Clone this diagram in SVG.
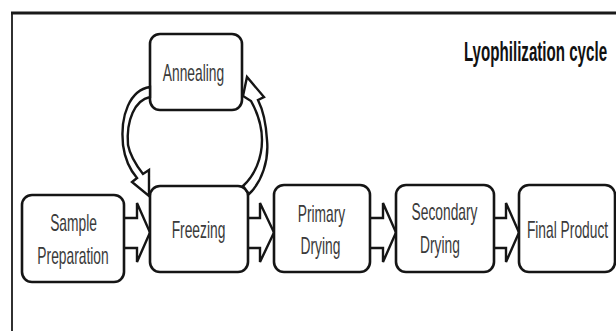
<svg xmlns="http://www.w3.org/2000/svg" width="616" height="331" viewBox="0 0 616 331">
<style>
.box{fill:#fff;stroke:#151515;stroke-width:2.6}
.arr{fill:#fff;stroke:#151515;stroke-width:2.4;stroke-linejoin:miter}
.lbl{font-family:"Liberation Sans",Arial,sans-serif;font-size:23px;fill:#3a3a3a;text-anchor:middle}
.title{font-family:"Liberation Sans",Arial,sans-serif;font-size:28px;font-weight:bold;fill:#111;text-anchor:middle}
</style>
<rect width="616" height="331" fill="#fff"/>
<g id="frame">
<line x1="11" y1="13" x2="616" y2="13" stroke="#1a1a1a" stroke-width="3"/>
<line x1="12" y1="12" x2="12" y2="331" stroke="#1a1a1a" stroke-width="1.8"/>
</g>
<text class="title" transform="translate(535.5,61) scale(0.54,1)">Lyophilization cycle</text>
<g id="connectors">
<path class="arr" d="M124,218 H137 V203 L150,232.5 L137,262 V248 H124"/>
<path class="arr" d="M248,218 H260 V203 L274,232.5 L260,262 V248 H248"/>
<path class="arr" d="M370,218 H383 V203 L396,232.5 L383,262 V248 H370"/>
<path class="arr" d="M494,218 H506 V203 L519,232.5 L506,262 V248 H494"/>
</g>
<g id="node-annealing">
<rect class="box" x="150" y="34" width="92" height="76" rx="10"/>
<text class="lbl" transform="translate(193.5,81) scale(0.6,1)">Annealing</text>
</g>
<g id="node-sample">
<rect class="box" x="22" y="195" width="102" height="87" rx="10"/>
<text class="lbl" transform="translate(73.5,231) scale(0.6,1)">Sample</text>
<text class="lbl" transform="translate(73,264) scale(0.6,1)">Preparation</text>
</g>
<g id="node-freezing">
<rect class="box" x="150" y="186" width="98" height="86" rx="10"/>
<text class="lbl" transform="translate(198.5,238) scale(0.6,1)">Freezing</text>
</g>
<g id="node-primary">
<rect class="box" x="274" y="185" width="96" height="87" rx="10"/>
<text class="lbl" transform="translate(321.5,222) scale(0.6,1)">Primary</text>
<text class="lbl" transform="translate(320.5,254) scale(0.6,1)">Drying</text>
</g>
<g id="node-secondary">
<rect class="box" x="396" y="185" width="98" height="87" rx="10"/>
<text class="lbl" transform="translate(444.5,220) scale(0.6,1)">Secondary</text>
<text class="lbl" transform="translate(440,253) scale(0.6,1)">Drying</text>
</g>
<g id="node-final">
<rect class="box" x="519" y="185" width="96" height="87" rx="10"/>
<text class="lbl" transform="translate(567.5,238) scale(0.6,1)">Final Product</text>
</g>
<g id="connectors-curved">
<path class="arr" d="M150,87 C130,90 120,115 123,145 C125,160 131,171 137,178 L132,182 L149,196 L149,170 L143,174 C136,165 130,155 128,145 C126,120 135,100 150,97 Z"/>
<path class="arr" d="M249,194 C262,182 269,160 267,140 C266,122 262,108 258,100 L264,97 L247,77 L243,96 L251,101 C256,110 262,124 262,140 C262,158 255,175 243,186 Z"/>
</g>
</svg>
